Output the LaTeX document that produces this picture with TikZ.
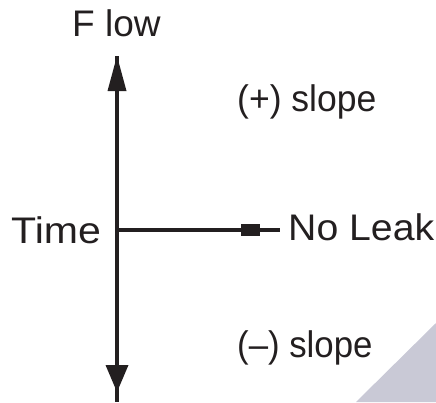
\documentclass[tikz,border=0pt]{standalone}
\usepackage{fontspec}
\setmainfont{Liberation Sans}
\usetikzlibrary{calc}
\definecolor{axisink}{RGB}{35,31,32}
\definecolor{cornergray}{RGB}{201,201,214}
\begin{document}
\begin{tikzpicture}[x=1pt,y=-1pt,
  axis/.style={draw=axisink,line width=4pt},
  headfill/.style={fill=axisink,draw=none},
  lbl/.style={anchor=base west,inner sep=0pt,text=axisink,font=\fontsize{37}{44}\selectfont}]
  \useasboundingbox (0,0) rectangle (436,402);

  % corner wedge
  \fill[cornergray] (356,402) -- (436,402) -- (436,323) -- cycle;

  % axis end points
  \coordinate (top) at (117,56);
  \coordinate (bot) at (117,402);
  \coordinate (mid) at (117,230);
  \coordinate (leak) at (280,230);

  % axes
  \draw[axis] (top) -- (bot);
  \draw[axis] (mid) -- (leak);

  % arrowheads on the flow axis
  \fill[headfill] (top) -- ($(top)+(-9.5,35)$) -- ($(top)+(9.5,35)$) -- cycle;
  \fill[headfill] (105.5,365) -- (128.5,365) -- (117,392) -- cycle;

  % marker on the no-leak line
  \fill[headfill] (241,224) rectangle (260,236);

  % labels
  \node[lbl] (flow) at (72,36) {F low};
  \node[lbl] (plus) at (237,111) {\scalebox{0.96}[1]{(+) slope}};
  \node[lbl] (time) at (11,243) {\scalebox{1.11}[1]{Time}};
  \node[lbl] (noleak) at (288,240) {\scalebox{1.06}[1]{No Leak}};
  \node[lbl] (minus) at (237,357) {\scalebox{0.94}[1]{(–) slope}};
\end{tikzpicture}
\end{document}
